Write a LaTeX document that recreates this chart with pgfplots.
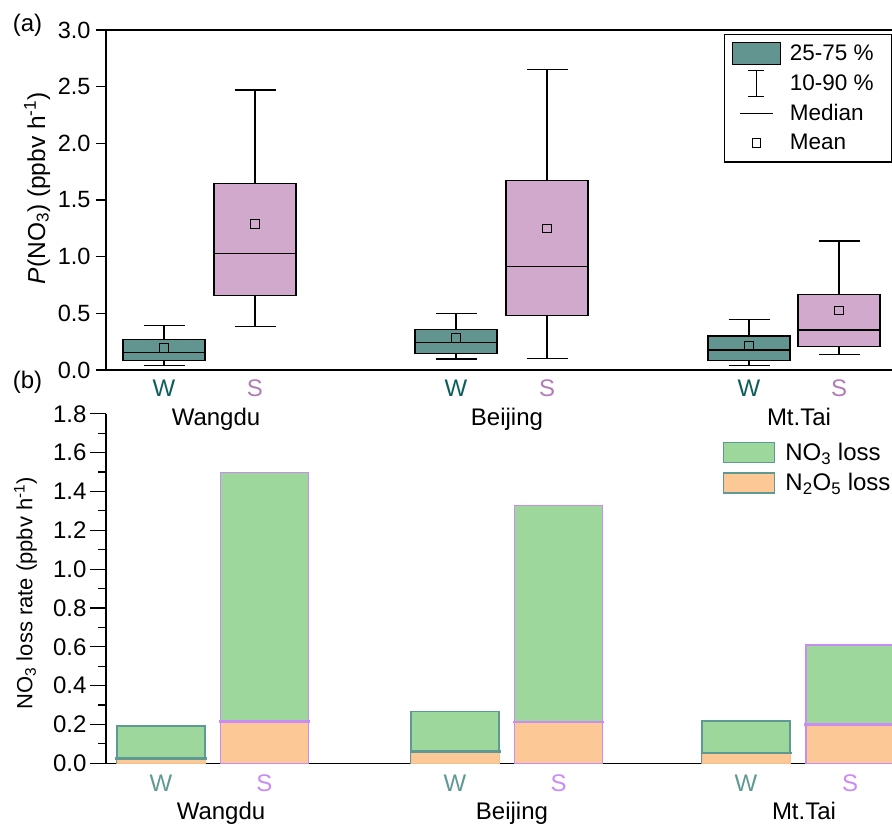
\documentclass[border=0pt]{standalone}
\usepackage{fontspec}
\setmainfont{Liberation Sans}
\usepackage{pgfplots}
\pgfplotsset{compat=1.18}
\definecolor{boxW}{HTML}{639590}
\definecolor{boxS}{HTML}{D1A9CD}
\definecolor{wTop}{HTML}{0D5E5B}
\definecolor{sTop}{HTML}{B47CB4}
\definecolor{barG}{HTML}{9ED79C}
\definecolor{barO}{HTML}{FBC896}
\definecolor{barOd}{HTML}{F3C08E}
\definecolor{tealB}{HTML}{5F9993}
\definecolor{lilac}{HTML}{C98BF6}
\begin{document}
\begin{tikzpicture}[x=1pt,y=1pt]
\useasboundingbox (0,0) rectangle (892,824);
\node[anchor=base,font=\fontsize{24}{29}\selectfont] at (27.5,792.3) {(a)};
\node[anchor=base,font=\fontsize{24}{29}\selectfont] at (27.5,435) {(b)};
% ---------------- top panel ----------------
\begin{axis}[
  at={(106pt,454pt)}, anchor=south west,
  width=786pt, height=340pt, scale only axis,
  xmin=106, xmax=892, ymin=0, ymax=3,
  axis x line=box, axis y line*=left,
  axis line style={line width=1.2pt,-},
  tick align=outside, major tick length=10pt,
  /pgf/number format/assume math mode=true,
  ytick={0,0.5,1,1.5,2,2.5,3},
  ytick style={line width=1.2pt,black},
  yticklabel style={font=\fontsize{23.5}{28}\selectfont,xshift=-2pt,/pgf/number format/.cd,fixed,fixed zerofill,precision=1},
  xtick={164,255,456,547,749,839},
  xticklabels={\textcolor{wTop}{W},\textcolor{sTop}{S},\textcolor{wTop}{W},\textcolor{sTop}{S},\textcolor{wTop}{W},\textcolor{sTop}{S}},
  xtick style={draw=none},
  xticklabel style={font=\fontsize{24}{29}\selectfont,yshift=4pt},
  extra x ticks={216,507,799},
  extra x tick labels={Wangdu,Beijing,Mt.Tai},
  extra x tick style={tick style={draw=none},tick label style={yshift=-28.5pt,font=\fontsize{24.5}{29}\selectfont}},
  ylabel={\textit{P}(NO\textsubscript{3}) (ppbv h\textsuperscript{-1})},
  ylabel style={font=\fontsize{24.5}{29}\selectfont,at={(axis description cs:-0.0776,0.535)},anchor=base},
  legend style={at={(axis description cs:0.7863,0.98824)},anchor=north west,draw=black,line width=1.2pt,fill=white,
     inner xsep=7pt,inner ysep=5.4pt,row sep=2.6pt,column sep=9pt,font=\fontsize{22.5}{27}\selectfont,
     nodes={inner sep=0pt},column 2/.style={nodes={text height=19.05pt,text depth=2.95pt}}},
  legend cell align=left,
  legend entries={25-75 \%\hspace*{11pt},10-90 \%,Median,Mean},
]
\addlegendimage{legend image code/.code={\path[draw=none] (0pt,-13.6pt) rectangle (48pt,13.6pt);
   \draw[fill=boxW,draw=black,line width=1.2pt] (0pt,-11pt) rectangle (48pt,11pt);}}
\addlegendimage{legend image code/.code={\path[draw=none] (0pt,-13.6pt) rectangle (48pt,13.6pt);
   \draw[black,line width=1.2pt] (24pt,-13pt)--(24pt,13pt) (16pt,13pt)--(32pt,13pt) (16pt,-13pt)--(32pt,-13pt);}}
\addlegendimage{legend image code/.code={\path[draw=none] (0pt,-13.6pt) rectangle (48pt,13.6pt);
   \draw[black,line width=1.2pt] (8pt,0pt)--(41pt,0pt);}}
\addlegendimage{legend image code/.code={\path[draw=none] (0pt,-13.6pt) rectangle (48pt,13.6pt);
   \draw[black,line width=1pt] (20pt,-4.2pt) rectangle (28.4pt,4.2pt);}}
% boxes (25-75 %): x from centre-41 to centre+41, y from lower to upper quartile
\addplot[forget plot,fill=boxW,draw=black,line width=1.2pt] coordinates {(123,0.082) (205,0.082) (205,0.267) (123,0.267) (123,0.082)};
\addplot[forget plot,fill=boxS,draw=black,line width=1.2pt] coordinates {(214,0.655) (296,0.655) (296,1.644) (214,1.644) (214,0.655)};
\addplot[forget plot,fill=boxW,draw=black,line width=1.2pt] coordinates {(415,0.144) (497,0.144) (497,0.358) (415,0.358) (415,0.144)};
\addplot[forget plot,fill=boxS,draw=black,line width=1.2pt] coordinates {(506,0.478) (588,0.478) (588,1.67) (506,1.67) (506,0.478)};
\addplot[forget plot,fill=boxW,draw=black,line width=1.2pt] coordinates {(708,0.082) (790,0.082) (790,0.30) (708,0.30) (708,0.082)};
\addplot[forget plot,fill=boxS,draw=black,line width=1.2pt] coordinates {(798,0.205) (880,0.205) (880,0.666) (798,0.666) (798,0.205)};
% medians
\addplot[forget plot,black,line width=1.2pt,unbounded coords=jump] coordinates {
 (123,0.156) (205,0.156) (210,nan) (214,1.027) (296,1.027) (300,nan)
 (415,0.244) (497,0.244) (500,nan) (506,0.91) (588,0.91) (600,nan)
 (708,0.176) (790,0.176) (795,nan) (798,0.352) (880,0.352)};
% whiskers (10-90 %)
\addplot[forget plot,black,line width=1.2pt,unbounded coords=jump] coordinates {
 (164,0.267) (164,0.39) (0,nan) (143.5,0.39) (184.5,0.39) (0,nan) (164,0.082) (164,0.038) (0,nan) (143.5,0.038) (184.5,0.038) (0,nan)
 (255,1.644) (255,2.47) (0,nan) (234.5,2.47) (275.5,2.47) (0,nan) (255,0.655) (255,0.382) (0,nan) (234.5,0.382) (275.5,0.382) (0,nan)
 (456,0.358) (456,0.499) (0,nan) (435.5,0.499) (476.5,0.499) (0,nan) (456,0.144) (456,0.097) (0,nan) (435.5,0.097) (476.5,0.097) (0,nan)
 (547,1.67) (547,2.65) (0,nan) (526.5,2.65) (567.5,2.65) (0,nan) (547,0.478) (547,0.10) (0,nan) (526.5,0.10) (567.5,0.10) (0,nan)
 (749,0.30) (749,0.446) (0,nan) (728.5,0.446) (769.5,0.446) (0,nan) (749,0.082) (749,0.041) (0,nan) (728.5,0.041) (769.5,0.041) (0,nan)
 (839,0.666) (839,1.139) (0,nan) (818.5,1.139) (859.5,1.139) (0,nan) (839,0.205) (839,0.138) (0,nan) (818.5,0.138) (859.5,0.138)};
% means
\addplot[forget plot,only marks,mark=square,mark size=4.2pt,mark options={black,line width=1pt,fill=none}]
  coordinates {(164,0.194) (255,1.289) (456,0.282) (547,1.25) (749,0.217) (839,0.525)};
\end{axis}
% ---------------- bottom panel ----------------
\begin{axis}[
  at={(106pt,60.7pt)}, anchor=south west,
  width=786pt, height=349.5pt, scale only axis,
  xmin=106, xmax=892, ymin=0, ymax=1.8,
  axis x line*=bottom, axis y line*=left,
  axis line style={line width=1.2pt,-},
  tick align=outside, major tick length=16pt, minor tick length=8pt,
  /pgf/number format/assume math mode=true,
  ytick={0,0.2,0.4,0.6,0.8,1.0,1.2,1.4,1.6,1.8},
  minor y tick num=1,
  ytick style={line width=1.2pt,black},
  minor y tick style={line width=1.2pt,black},
  yticklabel style={font=\fontsize{24}{28}\selectfont,/pgf/number format/.cd,fixed,fixed zerofill,precision=1},
  xtick={161,264.5,455,558.5,746,850},
  xticklabels={\textcolor{tealB}{W},\textcolor{lilac}{S},\textcolor{tealB}{W},\textcolor{lilac}{S},\textcolor{tealB}{W},\textcolor{lilac}{S}},
  xtick style={draw=none},
  xticklabel style={font=\fontsize{24}{29}\selectfont,yshift=8.3pt},
  extra x ticks={221,512,804},
  extra x tick labels={Wangdu,Beijing,Mt.Tai},
  extra x tick style={tick style={draw=none},tick label style={yshift=-27.3pt,font=\fontsize{24.5}{29}\selectfont}},
  ylabel={NO\textsubscript{3} loss rate (ppbv h\textsuperscript{-1})},
  ylabel style={font=\fontsize{22}{27}\selectfont,at={(axis description cs:-0.0938,0.487)},anchor=base},
  legend style={at={(axis description cs:0.785,0.9193)},anchor=north west,draw=none,fill=none,
     inner sep=0pt,row sep=9pt,column sep=10pt,font=\fontsize{24}{29}\selectfont,
     nodes={inner sep=0pt},column 2/.style={nodes={text height=19.6pt,text depth=2.4pt}}},
  legend cell align=left,
  legend entries={NO\textsubscript{3} loss,N\textsubscript{2}O\textsubscript{5} loss},
]
\addlegendimage{legend image code/.code={\draw[fill=barG,draw=tealB,line width=1.2pt] (0pt,-10pt) rectangle (51pt,10pt);}}
\addlegendimage{legend image code/.code={\draw[fill=barO,draw=tealB,line width=1.2pt] (0pt,-10pt) rectangle (51pt,10pt);}}
% total (NO3 + N2O5) heights
\addplot[forget plot,ybar,bar width=88,bar shift=0pt,fill=barG,draw=tealB,line width=1.2pt]
  coordinates {(161,0.192) (455,0.268) (746,0.218)};
\addplot[forget plot,ybar,bar width=88,bar shift=0pt,fill=barG,draw=lilac,line width=1.2pt]
  coordinates {(264.5,1.499) (558.5,1.329) (850,0.609)};
% N2O5 part
\addplot[forget plot,ybar,bar width=88,bar shift=0pt,fill=barO,draw=barOd,line width=0.8pt]
  coordinates {(161,0.026) (455,0.060) (746,0.053)};
\addplot[forget plot,ybar,bar width=88,bar shift=0pt,fill=barO,draw=lilac,line width=1.2pt]
  coordinates {(264.5,0.216) (558.5,0.213) (850,0.199)};
% boundaries
\addplot[forget plot,tealB,line width=2.6pt,unbounded coords=jump]
  coordinates {(115.5,0.026) (206.5,0.026) (300,nan) (409.5,0.060) (500.5,0.060) (600,nan) (700.5,0.053) (791.5,0.053)};
\addplot[forget plot,lilac,line width=2.6pt,unbounded coords=jump]
  coordinates {(219,0.216) (310,0.216) (400,nan) (513,0.213) (604,0.213) (700,nan) (804,0.199) (895,0.199)};
\end{axis}
\end{tikzpicture}
\end{document}
